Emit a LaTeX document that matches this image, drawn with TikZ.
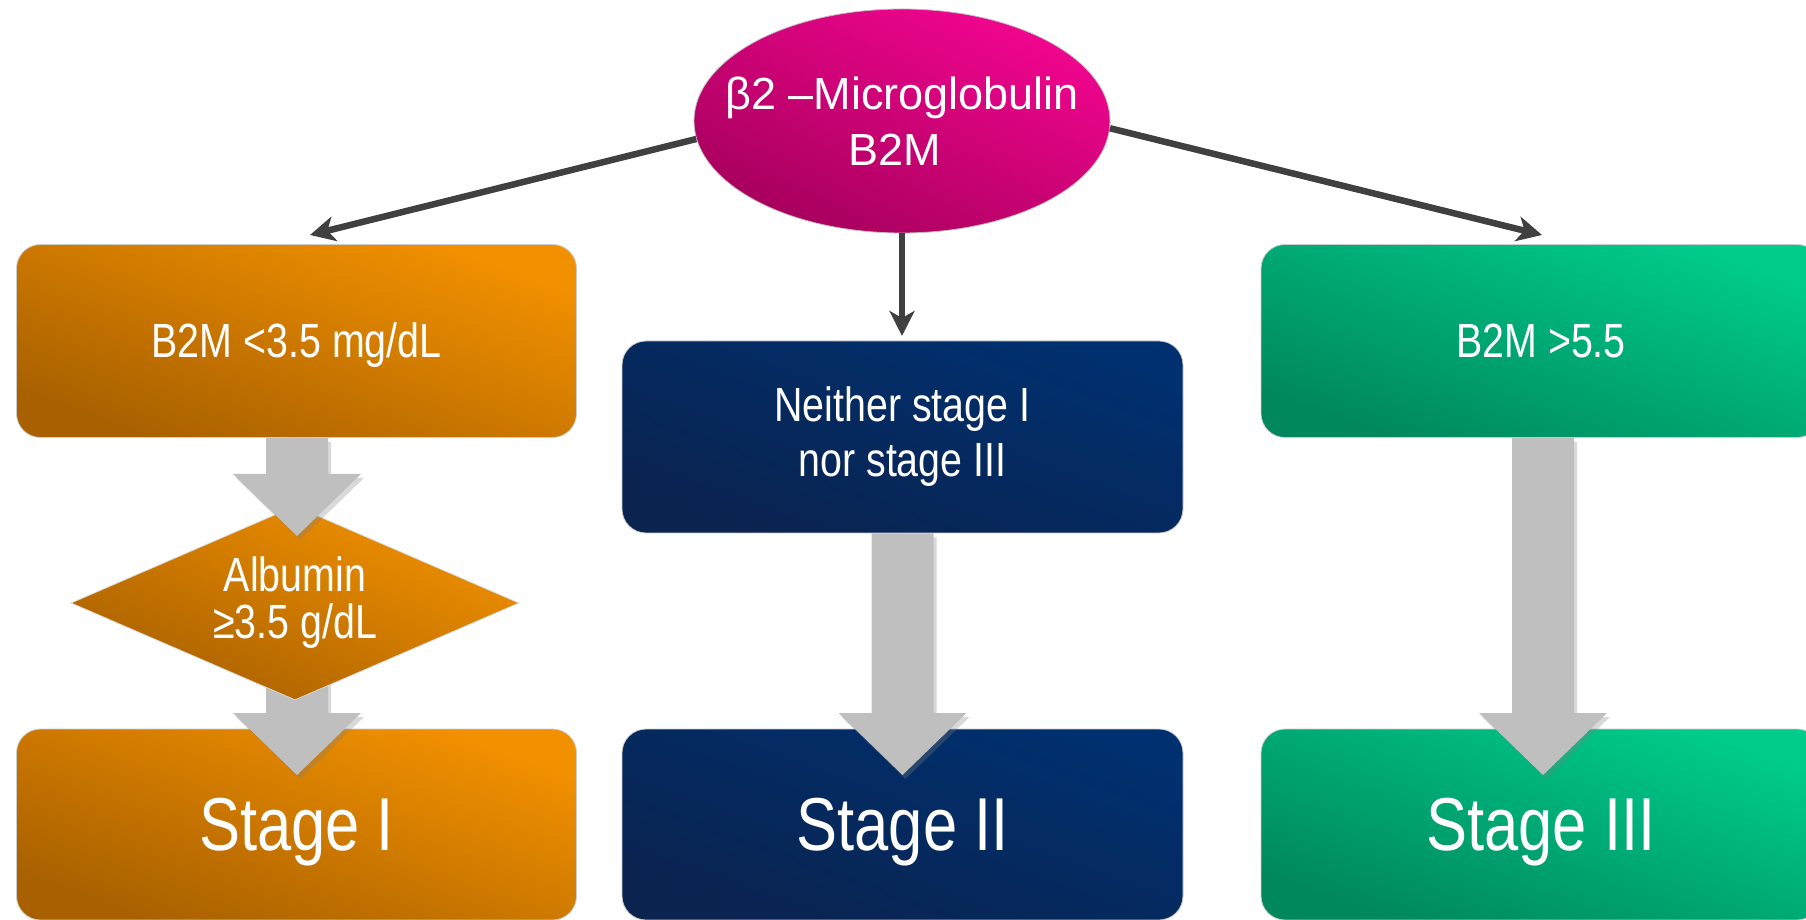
\documentclass[tikz,border=0pt]{standalone}
\usepackage{fontspec}
\setmainfont{Liberation Sans}
\newfontfamily\narrowfont[FakeStretch=0.82]{Liberation Sans}
\usetikzlibrary{shapes.geometric,arrows.meta,shadows,calc}

\definecolor{orgL}{HTML}{F29100}
\definecolor{orgD}{HTML}{A86000}
\definecolor{navL}{HTML}{00306F}
\definecolor{navD}{HTML}{0A234F}
\definecolor{grnL}{HTML}{00CC8C}
\definecolor{grnD}{HTML}{00875C}
\definecolor{magL}{HTML}{F2058F}
\definecolor{magD}{HTML}{A6005C}
\definecolor{flowgray}{HTML}{BFBFBF}
\definecolor{linkgray}{HTML}{404040}

\tikzset{
  card/.style={rectangle, rounded corners=24pt, minimum width=560pt,
    minimum height=193pt, inner sep=0pt, align=center, text=white,
    draw=black!20, line width=0.8pt},
  orangefill/.style={top color=orgL, bottom color=orgD, shading angle=-20},
  navyfill/.style={top color=navL, bottom color=navD, shading angle=-20},
  greenfill/.style={top color=grnL, bottom color=grnD, shading angle=-20},
  midtext/.style={font=\narrowfont\fontsize{48}{55}\selectfont},
  midline/.style={midtext, text height=43.4pt, text depth=10.2pt},
  stagetext/.style={font=\narrowfont\fontsize{75}{80}\selectfont,
    text height=67.9pt, text depth=15.9pt},
  link/.style={draw=linkgray, line width=6.5pt,
    -{Stealth[length=25pt,width=25pt,inset=7pt]}},
  flowstyle/.style={fill=flowgray,
    drop shadow={shadow xshift=3pt, shadow yshift=-4pt, opacity=0.3}},
}

% broad grey block arrow from the level of #1 down to the tip #2
\newcommand{\flowarrow}[2]{%
  \path[flowstyle] let \p1=(#1), \p2=(#2) in
    (\x2-31pt,\y1) -- (\x2+31pt,\y1) -- (\x2+31pt,\y2+62pt)
    -- (\x2+64pt,\y2+62pt) -- (\x2,\y2) -- (\x2-64pt,\y2+62pt)
    -- (\x2-31pt,\y2+62pt) -- cycle;}

\begin{document}
\begin{tikzpicture}[x=1pt,y=1pt]
\clip (0,0) rectangle (1806,919);

% criteria boxes
\node[card, orangefill, midline] (lowb2m) at (296.5,578) {B2M <3.5 mg/dL};
\node[card, navyfill, midtext, minimum width=561pt, minimum height=192pt]
  (neither) at (902.5,482) {Neither stage I\\nor stage III};
\node[card, greenfill, midline] (highb2m) at (1541,578) {B2M >5.5};

% stage boxes
\node[card, orangefill, stagetext, minimum height=191pt] (s1) at (296.5,94.5) {Stage I};
\node[card, navyfill, stagetext, minimum width=561pt, minimum height=191pt] (s2) at (902.5,94.5) {Stage II};
\node[card, greenfill, stagetext, minimum height=191pt] (s3) at (1541,94.5) {Stage III};

% block arrows
\coordinate (albmid) at (295,316);
\coordinate (tipB) at (297,144);
\flowarrow{albmid}{tipB}

\node[diamond, shape aspect=2.3, minimum width=448pt, minimum height=194pt,
  inner sep=0pt, top color=orgL, bottom color=orgD, shading angle=-23,
  draw=black!15, line width=0.8pt, align=center,
  text=white, font=\narrowfont\fontsize{48}{47}\selectfont]
  (alb) at (295,316) {Albumin\\≥3.5 g/dL};

\coordinate (tipA) at (297,383);
\flowarrow{lowb2m.south}{tipA}
\coordinate (tipC) at (902.5,144);
\flowarrow{neither.south}{tipC}
\coordinate (tipD) at (1543,144);
\flowarrow{highb2m.south}{tipD}

% root and its branches
\node[ellipse, minimum width=416pt, minimum height=224pt, inner xsep=-70pt,
  inner ysep=0pt, top color=magL, bottom color=magD, shading angle=-25,
  draw=black!25, line width=0.8pt, text=white, align=center,
  font=\fontsize{45}{56}\selectfont] (b2m) at (902,798)
  {β2 –Microglobulin\\B2M\rule{14pt}{0pt}};

\coordinate (tipL) at (310,684);
\coordinate (tipM) at (902,583);
\coordinate (tipR) at (1542,684);
\draw[link] (b2m.185) -- (tipL);
\draw[link] (b2m.south) -- (tipM);
\draw[link] (b2m.358) -- (tipR);
\end{tikzpicture}
\end{document}
